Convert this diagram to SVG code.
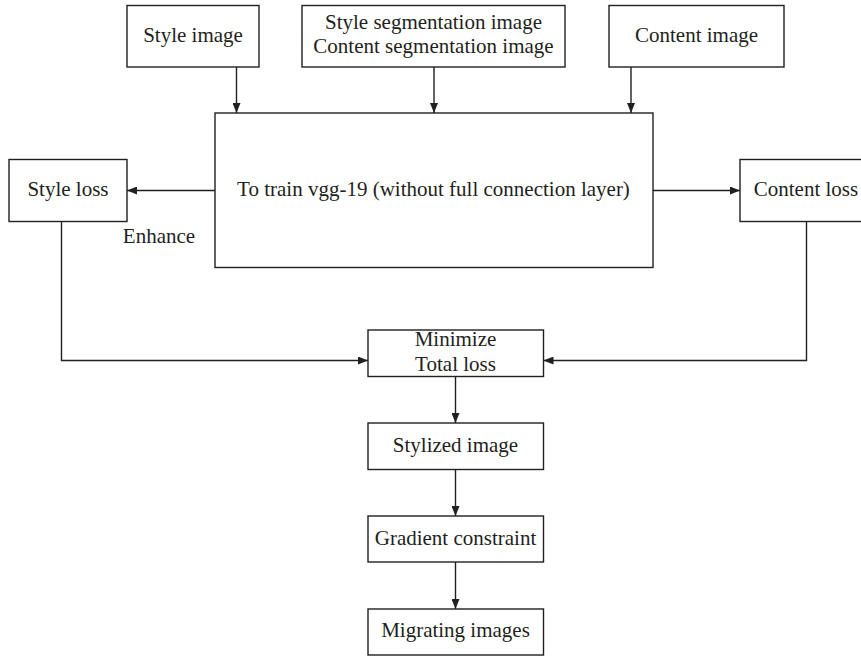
<svg xmlns="http://www.w3.org/2000/svg" width="861" height="656" viewBox="0 0 861 656">
<style>
.box{fill:#fff;stroke:#231f20;stroke-width:1.4}
.t{font-family:"Liberation Serif","Times New Roman",serif;font-size:21px;fill:#231f20;text-anchor:middle}
.c{fill:none;stroke:#231f20;stroke-width:1.4}
</style>
<defs>
<marker id="ah" viewBox="0 0 10 8" refX="10" refY="4" markerWidth="10" markerHeight="8" markerUnits="userSpaceOnUse" orient="auto">
<path d="M0,0 L10,4 L0,8 Z" fill="#231f20"/>
</marker>
</defs>
<rect width="861" height="656" fill="#fff"/>
<g id="connectors">
<line class="c" x1="236.5" y1="67" x2="236.5" y2="113" marker-end="url(#ah)"/>
<line class="c" x1="434" y1="67" x2="434" y2="113" marker-end="url(#ah)"/>
<line class="c" x1="631" y1="67" x2="631" y2="113" marker-end="url(#ah)"/>
<line class="c" x1="215" y1="190.5" x2="127" y2="190.5" marker-end="url(#ah)"/>
<line class="c" x1="653" y1="190.5" x2="740" y2="190.5" marker-end="url(#ah)"/>
<polyline class="c" points="61.5,221 61.5,360.5 368,360.5" marker-end="url(#ah)"/>
<polyline class="c" points="806.5,221 806.5,360.5 543.5,360.5" marker-end="url(#ah)"/>
<line class="c" x1="455.5" y1="377" x2="455.5" y2="423" marker-end="url(#ah)"/>
<line class="c" x1="455.5" y1="469" x2="455.5" y2="516" marker-end="url(#ah)"/>
<line class="c" x1="455.5" y1="562" x2="455.5" y2="609" marker-end="url(#ah)"/>
</g>
<g id="style-image">
<rect class="box" x="127" y="5.5" width="132" height="61.5"/>
<text class="t" x="193" y="42">Style image</text>
</g>
<g id="segmentation">
<rect class="box" x="302" y="5.5" width="263" height="61.5"/>
<text class="t" x="433.5" y="28.5">Style segmentation image</text>
<text class="t" x="433.5" y="53">Content segmentation image</text>
</g>
<g id="content-image">
<rect class="box" x="609" y="5.5" width="175" height="61.5"/>
<text class="t" x="696.5" y="42">Content image</text>
</g>
<g id="vgg">
<rect class="box" x="215" y="113" width="438" height="154.5"/>
<text class="t" x="433.5" y="196">To train vgg-19 (without full connection layer)</text>
</g>
<g id="style-loss">
<rect class="box" x="9" y="159.5" width="118" height="62"/>
<text class="t" x="68" y="196">Style loss</text>
</g>
<g id="enhance-label">
<text class="t" x="159" y="243">Enhance</text>
</g>
<g id="content-loss">
<rect class="box" x="740" y="159.5" width="130" height="62"/>
<text class="t" x="806" y="196">Content loss</text>
</g>
<g id="minimize">
<rect class="box" x="368" y="330" width="175.5" height="46.5"/>
<text class="t" x="455.5" y="346">Minimize</text>
<text class="t" x="455.5" y="371">Total loss</text>
</g>
<g id="stylized">
<rect class="box" x="368" y="423" width="175.5" height="46.5"/>
<text class="t" x="455.5" y="452">Stylized image</text>
</g>
<g id="gradient">
<rect class="box" x="368" y="516" width="175.5" height="46"/>
<text class="t" x="455.5" y="545">Gradient constraint</text>
</g>
<g id="migrating">
<rect class="box" x="368" y="609" width="175.5" height="46"/>
<text class="t" x="455.5" y="637">Migrating images</text>
</g>
</svg>
